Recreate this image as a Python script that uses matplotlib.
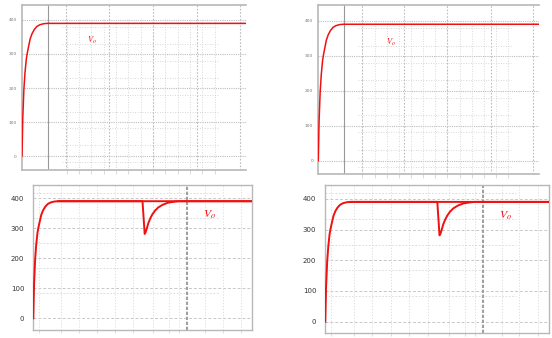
import matplotlib
matplotlib.use("Agg")
from matplotlib import pyplot as plt
from matplotlib import font_manager

plt.rcParams["mathtext.fontset"] = "stix"

# start-up response of the output voltage (s, V)
rise_t = [0, 0.002, 0.005, 0.008, 0.0115, 0.014, 0.018, 0.022, 0.027,
          0.033, 0.040, 0.048, 0.058, 0.068, 0.6]
rise_v = [0, 110, 195, 245, 285, 302, 324, 345, 360,
          372, 381, 386, 389, 390, 390]

# load step at 0.3 s: dip and recovery (s, V)
dip_t = [0.068, 0.300, 0.303, 0.306, 0.309, 0.312, 0.316, 0.321, 0.327,
         0.334, 0.343, 0.355, 0.370, 0.385, 0.400, 0.6]
dip_v = [390, 390, 335, 281, 288, 300, 317, 332, 346,
         358, 369, 378, 385, 388, 390, 390]

yticks = [0, 100, 200, 300, 400]
label = r"$V_o$"
red = "#f01010"

top_cursor = 0.07
bottom_cursor = 0.422

# grid of the top (scope) panels
top_major_x = [0.118, 0.233, 0.351, 0.469, 0.584]
top_minor_x = [0.12 + 0.033 * i for i in range(13)]
top_minor_y = [-18 + 49.5 * i for i in range(9)]

# grid of the bottom panels
bot_major_x = [0.076, 0.175, 0.274, 0.373, 0.472, 0.571]
bot_minor_x = [0.016, 0.125, 0.225, 0.330, 0.400, 0.520]
bot_minor_y = [84, 167, 251, 335, 418]

fig = plt.figure(figsize=(5.52, 3.38), dpi=100)

narrow = "Liberation Sans Narrow"
names = {f.name for f in font_manager.fontManager.ttflist}
if narrow not in names:
    narrow = "DejaVu Sans"


def setup_top(rect, ylim, lx, ly):
    ax = fig.add_axes(rect)
    ax.set_xlim(0, 0.6)
    ax.set_ylim(*ylim)
    for y in yticks:
        ax.axhline(y, color="#bdbdbd", lw=0.8, ls=(0, (1, 1)), zorder=1)
    for x in top_major_x:
        ax.axvline(x, color="#bdbdbd", lw=0.8, ls=(0, (1.5, 1.5)), zorder=1)
    for x in top_minor_x:
        ax.vlines(x, ylim[0], 405, color="#cccccc", lw=0.6,
                  ls=(0, (1, 2)), zorder=1)
    ax.hlines(top_minor_y, 0.107, 0.525, color="#cccccc", lw=0.6,
              ls=(0, (1, 2)), zorder=1)
    ax.axvline(top_cursor, color="#999999", lw=0.8, zorder=2)
    ax.plot(rise_t, rise_v, color=red, lw=1.1, zorder=3)
    ax.text(lx, ly, label, color=red, fontsize=6, style="italic")
    ax.set_yticks(yticks)
    ax.tick_params(axis="y", length=0, pad=3.8, labelsize=3.2,
                   labelcolor="#777777")
    ax.set_xticks(top_minor_x)
    ax.set_xticklabels([])
    ax.tick_params(axis="x", length=3, color="#d4d4d4", width=0.6)
    for s in ["left", "top", "bottom"]:
        ax.spines[s].set_color("#b8b8b8")
        ax.spines[s].set_linewidth(1.2)
    ax.spines["right"].set_visible(False)
    return ax


def setup_bottom(rect, ylim, lx, ly):
    ax = fig.add_axes(rect)
    ax.set_xlim(0, 0.6)
    ax.set_ylim(*ylim)
    for y in yticks:
        ax.axhline(y, color="#c8c8c8", lw=0.7, ls=(0, (3, 2)), zorder=1)
    ax.hlines(bot_minor_y, 0, 0.51, color="#d6d6d6", lw=0.6,
              ls=(0, (2, 2)), zorder=1)
    for x in bot_major_x + bot_minor_x:
        ax.axvline(x, color="#d8d8d8", lw=0.6, ls=(0, (1.5, 2)), zorder=1)
    ax.axvline(bottom_cursor, color="#a0a0a0", lw=1.5, ls=(0, (1.6, 0.8)),
               zorder=2)
    ax.plot(rise_t, rise_v, color=red, lw=1.4, zorder=3)
    ax.plot(dip_t, dip_v, color=red, lw=1.4, zorder=3)
    ax.text(lx, ly, label, color=red, fontsize=8.5, style="italic")
    ax.set_yticks(yticks)
    ax.tick_params(axis="y", length=0, pad=6.5, labelsize=5,
                   labelcolor="#333333")
    for t in ax.get_yticklabels():
        t.set_fontfamily(narrow)
    ax.set_xticks(bot_major_x + bot_minor_x)
    ax.set_xticklabels([])
    ax.tick_params(axis="x", length=2.5, color="#d8d8d8", width=0.6)
    for s in ax.spines.values():
        s.set_color("#b8b8b8")
        s.set_linewidth(1.0)
    return ax


setup_top([22 / 552, 1 - 170 / 338, 224 / 552, 165 / 338],
          (-41, 444), 0.175, 332)
setup_top([318.3 / 552, 1 - 174 / 338, 220.7 / 552, 169 / 338],
          (-38, 445), 0.185, 332)
setup_bottom([33.3 / 552, 1 - 330 / 338, 218.4 / 552, 145 / 338],
             (-39, 444), 0.465, 335)
setup_bottom([325.3 / 552, 1 - 333.3 / 338, 224 / 552, 148.6 / 338],
             (-38, 446), 0.465, 335)

fig.savefig("out.png", dpi=100)
